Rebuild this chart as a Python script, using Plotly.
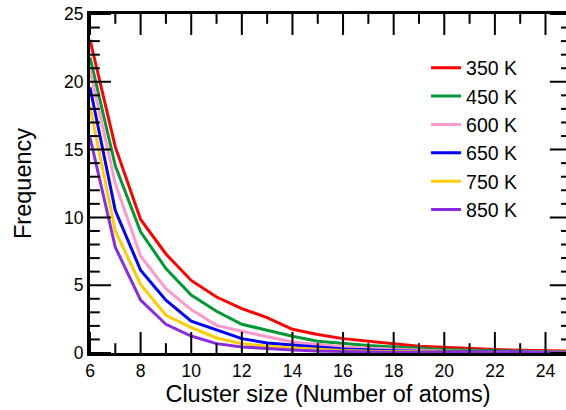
import plotly.graph_objects as go

cluster_size = list(range(6, 26))

labels = ["350 K", "450 K", "600 K", "650 K", "750 K", "850 K"]
colors = ["#ff0000", "#009933", "#ff99cc", "#0000ff", "#ffcc00", "#8a2be2"]

freq_350 = [23.1, 15.2, 9.85, 7.3, 5.35, 4.13, 3.27, 2.61, 1.75, 1.36, 1.06, 0.85, 0.69, 0.5, 0.4, 0.32, 0.25, 0.2, 0.17, 0.15]
freq_450 = [21.8, 13.8, 8.93, 6.23, 4.28, 3.08, 2.12, 1.67, 1.23, 0.86, 0.69, 0.55, 0.45, 0.33, 0.25, 0.2, 0.15, 0.12, 0.1, 0.08]
freq_600 = [20.9, 12.5, 7.14, 4.75, 3.2, 2.04, 1.6, 1.18, 0.81, 0.64, 0.45, 0.35, 0.28, 0.2, 0.15, 0.12, 0.1, 0.08, 0.06, 0.05]
freq_650 = [19.6, 10.5, 6.1, 3.89, 2.35, 1.73, 1.06, 0.74, 0.57, 0.45, 0.3, 0.22, 0.17, 0.12, 0.1, 0.08, 0.06, 0.05, 0.04, 0.03]
freq_750 = [18.2, 9.0, 5.05, 2.78, 1.88, 1.11, 0.69, 0.5, 0.37, 0.25, 0.18, 0.13, 0.1, 0.08, 0.06, 0.05, 0.04, 0.03, 0.02, 0.02]
freq_850 = [15.9, 7.8, 3.9, 2.12, 1.25, 0.69, 0.44, 0.32, 0.22, 0.15, 0.1, 0.08, 0.06, 0.05, 0.04, 0.03, 0.02, 0.02, 0.01, 0.01]

series = [freq_350, freq_450, freq_600, freq_650, freq_750, freq_850]

# axis extents and tick values (frame spans x 6..25; right edge falls just outside the page)
X_MIN, X_FRAME, X_VIEW = 6, 25, 24.81
Y_MIN, Y_MAX = 0, 25
x_major = list(range(6, 25, 2))
x_minor = list(range(7, 25, 2))
y_major = list(range(0, 26, 5))
y_minor = [v for v in range(1, 25) if v % 5]

FONT = "Liberation Sans, Arial, sans-serif"

fig = go.Figure()
for name, col, vals in zip(labels, colors, series):
    fig.add_trace(go.Scatter(x=cluster_size, y=vals, mode="lines", name=name,
                             line=dict(color=col, width=3)))

# inward tick marks: line markers centred on the frame, half clipped away by the plot area
def tick_marks(xs, ys, symbol, size):
    fig.add_trace(go.Scatter(x=xs, y=ys, mode="markers", showlegend=False, hoverinfo="skip",
                             cliponaxis=True,
                             marker=dict(symbol=symbol, size=size, color="black",
                                         line=dict(width=2, color="black"))))

for xs, size in ((x_major, 30), (x_minor, 14)):
    tick_marks(xs, [Y_MIN] * len(xs), "line-ns", size)
    tick_marks(xs, [Y_MAX] * len(xs), "line-ns", size)
for ys, size in ((y_major, 30), (y_minor, 14)):
    tick_marks([X_MIN] * len(ys), ys, "line-ew", size)
    tick_marks([X_FRAME] * len(ys), ys, "line-ew", size)

fig.update_layout(
    width=566, height=410,
    margin=dict(l=90, r=0, t=14, b=57),
    paper_bgcolor="white", plot_bgcolor="white",
    font=dict(family=FONT, color="black", size=18),
    showlegend=True,
    legend=dict(x=0.706, y=0.898, xanchor="left", yanchor="top",
                bgcolor="rgba(0,0,0,0)", borderwidth=0,
                font=dict(size=19.5, family=FONT)),
)
fig.update_xaxes(range=[X_MIN, X_VIEW], tickvals=x_major, showgrid=False, zeroline=False,
                 showline=True, linewidth=3, linecolor="black", mirror=True,
                 ticks="", tickfont=dict(size=17.5),
                 title=dict(text="Cluster size (Number of atoms)", font=dict(size=23.5), standoff=4))
fig.update_yaxes(range=[Y_MIN, Y_MAX], tickvals=y_major, showgrid=False, zeroline=False,
                 showline=True, linewidth=3, linecolor="black", mirror=False,
                 ticks="", tickfont=dict(size=17.5),
                 title=dict(text="Frequency", font=dict(size=23.5), standoff=26))

fig.write_html("out.html")
